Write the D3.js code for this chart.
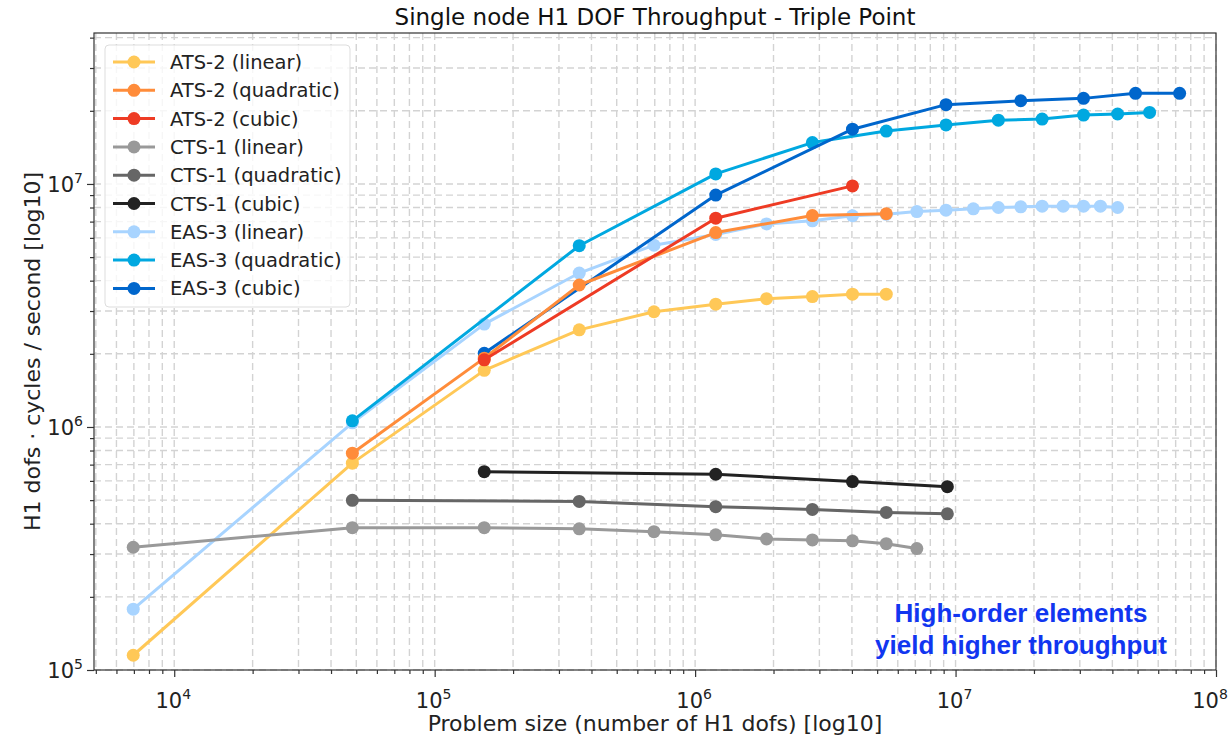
<!DOCTYPE html>
<html>
<head>
<meta charset="utf-8">
<script src="https://cdn.jsdelivr.net/npm/d3@7"></script>
<style>
  body { margin: 0; background: #fff; }
  svg { font-family: "DejaVu Sans", sans-serif; }
  .grid line { stroke: #d3d3d3; stroke-width: 1.4; stroke-dasharray: 7,4; }
</style>
</head>
<body>
<svg id="chart" width="1231" height="737"></svg>
<script>
// Series (legend order)
var seriesNames = ["ATS-2 (linear)", "ATS-2 (quadratic)", "ATS-2 (cubic)",
                   "CTS-1 (linear)", "CTS-1 (quadratic)", "CTS-1 (cubic)",
                   "EAS-3 (linear)", "EAS-3 (quadratic)", "EAS-3 (cubic)"];
var seriesColors = ["#ffc857", "#ff8c3a", "#ee3b24",
                    "#999999", "#666666", "#222222",
                    "#a8d4ff", "#00a8e0", "#0066cc"];

// Problem size (H1 dofs) and throughput (dofs * cycles / s)
var atsLinearX = [6.96e3, 4.83e4, 1.55e5, 3.59e5, 6.95e5, 1.2e6, 1.88e6, 2.82e6, 4.02e6, 5.42e6];
var atsLinearY = [1.15e5, 7.1e5, 1.71e6, 2.51e6, 2.98e6, 3.2e6, 3.37e6, 3.44e6, 3.52e6, 3.52e6];
var atsQuadX = [4.83e4, 1.55e5, 3.59e5, 1.2e6, 2.82e6, 5.42e6];
var atsQuadY = [7.8e5, 1.92e6, 3.84e6, 6.31e6, 7.41e6, 7.54e6];
var atsCubicX = [1.55e5, 1.2e6, 4.02e6];
var atsCubicY = [1.89e6, 7.23e6, 9.82e6];

var ctsLinearX = [6.96e3, 4.83e4, 1.55e5, 3.59e5, 6.95e5, 1.2e6, 1.88e6, 2.82e6, 4.02e6, 5.42e6, 7.1e6];
var ctsLinearY = [3.2e5, 3.85e5, 3.85e5, 3.81e5, 3.71e5, 3.6e5, 3.46e5, 3.43e5, 3.4e5, 3.31e5, 3.16e5];
var ctsQuadX = [4.83e4, 3.59e5, 1.2e6, 2.82e6, 5.42e6, 9.3e6];
var ctsQuadY = [4.99e5, 4.94e5, 4.7e5, 4.58e5, 4.45e5, 4.39e5];
var ctsCubicX = [1.55e5, 1.2e6, 4.02e6, 9.3e6];
var ctsCubicY = [6.55e5, 6.39e5, 5.96e5, 5.68e5];

var easLinearX = [6.96e3, 4.83e4, 1.55e5, 3.59e5, 6.95e5, 1.2e6, 1.88e6, 2.82e6, 4.02e6, 5.42e6,
                  7.1e6, 9.19e6, 1.17e7, 1.46e7, 1.78e7, 2.15e7, 2.59e7, 3.1e7, 3.6e7, 4.19e7];
var easLinearY = [1.78e5, 1.04e6, 2.65e6, 4.3e6, 5.6e6, 6.2e6, 6.85e6, 7.05e6, 7.4e6, 7.5e6,
                  7.7e6, 7.8e6, 7.9e6, 8.0e6, 8.05e6, 8.1e6, 8.1e6, 8.1e6, 8.1e6, 8.0e6];
var easQuadX = [4.83e4, 3.59e5, 1.2e6, 2.82e6, 5.42e6, 9.19e6, 1.46e7, 2.15e7, 3.1e7, 4.19e7, 5.56e7];
var easQuadY = [1.06e6, 5.57e6, 1.1e7, 1.48e7, 1.65e7, 1.75e7, 1.83e7, 1.85e7, 1.92e7, 1.94e7, 1.97e7];
var easCubicX = [1.55e5, 1.2e6, 4.02e6, 9.19e6, 1.78e7, 3.1e7, 4.91e7, 7.25e7];
var easCubicY = [2.01e6, 9.0e6, 1.68e7, 2.12e7, 2.2e7, 2.25e7, 2.36e7, 2.36e7];

var seriesX = [atsLinearX, atsQuadX, atsCubicX, ctsLinearX, ctsQuadX, ctsCubicX, easLinearX, easQuadX, easCubicX];
var seriesY = [atsLinearY, atsQuadY, atsCubicY, ctsLinearY, ctsQuadY, ctsCubicY, easLinearY, easQuadY, easCubicY];
// EAS-3 was drawn first, then ATS-2, then CTS-1
var drawOrder = [6, 7, 8, 0, 1, 2, 3, 4, 5];

var xMajorTicks = [1e4, 1e5, 1e6, 1e7, 1e8];
var yMajorTicks = [1e5, 1e6, 1e7];

var chartTitle = "Single node H1 DOF Throughput - Triple Point";
var xTitle = "Problem size (number of H1 dofs) [log10]";
var yTitle = "H1 dofs \u00b7 cycles / second [log10]";
var noteLines = ["High-order elements", "yield higher throughput"];

function draw() {
  var svg = d3.select("#chart");
  var mLeft = 94, mRight = 1216, mTop = 33, mBottom = 670;

  var x = d3.scaleLog().domain([4.92e3, 1e8]).range([mLeft, mRight]);
  var y = d3.scaleLog().domain([1e5, 4.18e7]).range([mBottom, mTop]);

  // minor ticks 2..9 x decade inside domain
  function minorTicks(scale) {
    var d = scale.domain(), out = [];
    for (var e = Math.floor(Math.log10(d[0])); e <= Math.ceil(Math.log10(d[1])); e++) {
      for (var m = 2; m <= 9; m++) {
        var v = m * Math.pow(10, e);
        if (v >= d[0] && v <= d[1]) out.push(v);
      }
    }
    return out;
  }
  var xMinor = minorTicks(x), yMinor = minorTicks(y);

  // Grid (major + minor, dashed)
  var grid = svg.append("g").classed("grid", true);
  grid.selectAll("line.vx").data(xMajorTicks.concat(xMinor)).enter().append("line")
    .attr("x1", function (d) { return x(d); }).attr("x2", function (d) { return x(d); })
    .attr("y1", mTop).attr("y2", mBottom);
  grid.selectAll("line.hy").data(yMajorTicks.concat(yMinor)).enter().append("line")
    .attr("y1", function (d) { return y(d); }).attr("y2", function (d) { return y(d); })
    .attr("x1", mLeft).attr("x2", mRight);

  // Series
  var line = d3.line()
    .x(function (d) { return x(d[0]); })
    .y(function (d) { return y(d[1]); });

  var plot = svg.append("g").classed("plot", true);
  drawOrder.forEach(function (i) {
    var pts = d3.zip(seriesX[i], seriesY[i]);
    var g = plot.append("g");
    g.append("path")
      .attr("d", line(pts))
      .attr("fill", "none")
      .attr("stroke", seriesColors[i])
      .attr("stroke-width", 3)
      .attr("stroke-linejoin", "round");
    g.selectAll("circle").data(pts).enter().append("circle")
      .attr("cx", function (d) { return x(d[0]); })
      .attr("cy", function (d) { return y(d[1]); })
      .attr("r", 6.5)
      .attr("fill", seriesColors[i]);
  });

  // Frame
  svg.append("rect")
    .attr("x", mLeft).attr("y", mTop)
    .attr("width", mRight - mLeft).attr("height", mBottom - mTop)
    .attr("fill", "none").attr("stroke", "#333").attr("stroke-width", 1.2);

  // Axes
  var xAxis = svg.append("g").attr("transform", "translate(0," + mBottom + ")");
  xAxis.call(d3.axisBottom(x).tickValues(xMajorTicks).tickSize(7).tickFormat(""));
  xAxis.append("g").call(d3.axisBottom(x).tickValues(xMinor).tickSize(4).tickFormat(""));
  var yAxis = svg.append("g").attr("transform", "translate(" + mLeft + ",0)");
  yAxis.call(d3.axisLeft(y).tickValues(yMajorTicks).tickSize(7).tickFormat(""));
  yAxis.append("g").call(d3.axisLeft(y).tickValues(yMinor).tickSize(4).tickFormat(""));
  svg.selectAll(".domain").remove();
  svg.selectAll(".tick line").attr("stroke", "#333").attr("stroke-width", 1.2);

  function powLabel(sel, v) {
    sel.append("tspan").text("10");
    sel.append("tspan").attr("dy", -9).attr("font-size", 14).text(Math.round(Math.log10(v)));
  }
  xMajorTicks.forEach(function (v) {
    var t = svg.append("text").attr("x", Math.min(x(v) - 1, 1210)).attr("y", 708)
      .attr("text-anchor", "middle").attr("font-size", 21).attr("fill", "#222");
    powLabel(t, v);
  });
  yMajorTicks.forEach(function (v) {
    var t = svg.append("text").attr("x", 83).attr("y", y(v) + 8)
      .attr("text-anchor", "end").attr("font-size", 21).attr("fill", "#222");
    powLabel(t, v);
  });

  // Titles
  svg.append("text").attr("x", (mLeft + mRight) / 2).attr("y", 25)
    .attr("text-anchor", "middle").attr("font-size", 23).attr("fill", "#111").text(chartTitle);
  svg.append("text").attr("x", (mLeft + mRight) / 2).attr("y", 731)
    .attr("text-anchor", "middle").attr("font-size", 22).attr("fill", "#222").text(xTitle);
  svg.append("text").attr("transform", "translate(40," + (mTop + mBottom) / 2 + ") rotate(-90)")
    .attr("text-anchor", "middle").attr("font-size", 22).attr("fill", "#222").text(yTitle);

  // Annotation
  svg.append("g").selectAll("text").data(noteLines).enter().append("text")
    .attr("x", 1021).attr("y", function (d, i) { return 622 + i * 32; })
    .attr("text-anchor", "middle")
    .attr("font-family", "'Liberation Sans', Arial, sans-serif")
    .attr("font-weight", "bold").attr("font-size", 26).attr("fill", "#1136f0")
    .text(function (d) { return d; });

  // Legend
  var legend = svg.append("g").attr("transform", "translate(105,45)");
  legend.append("rect").attr("width", 245).attr("height", 262).attr("rx", 4)
    .attr("fill", "#fff").attr("fill-opacity", 0.8).attr("stroke", "#ddd");
  seriesNames.forEach(function (name, i) {
    var yy = 17 + i * 28.3;
    legend.append("line").attr("x1", 8).attr("x2", 50).attr("y1", yy).attr("y2", yy)
      .attr("stroke", seriesColors[i]).attr("stroke-width", 3);
    legend.append("circle").attr("cx", 29).attr("cy", yy).attr("r", 6.5).attr("fill", seriesColors[i]);
    legend.append("text").attr("x", 65).attr("y", yy + 7).attr("font-size", 19.5)
      .attr("fill", "#222").text(name);
  });
}
draw();
</script>
</body>
</html>
